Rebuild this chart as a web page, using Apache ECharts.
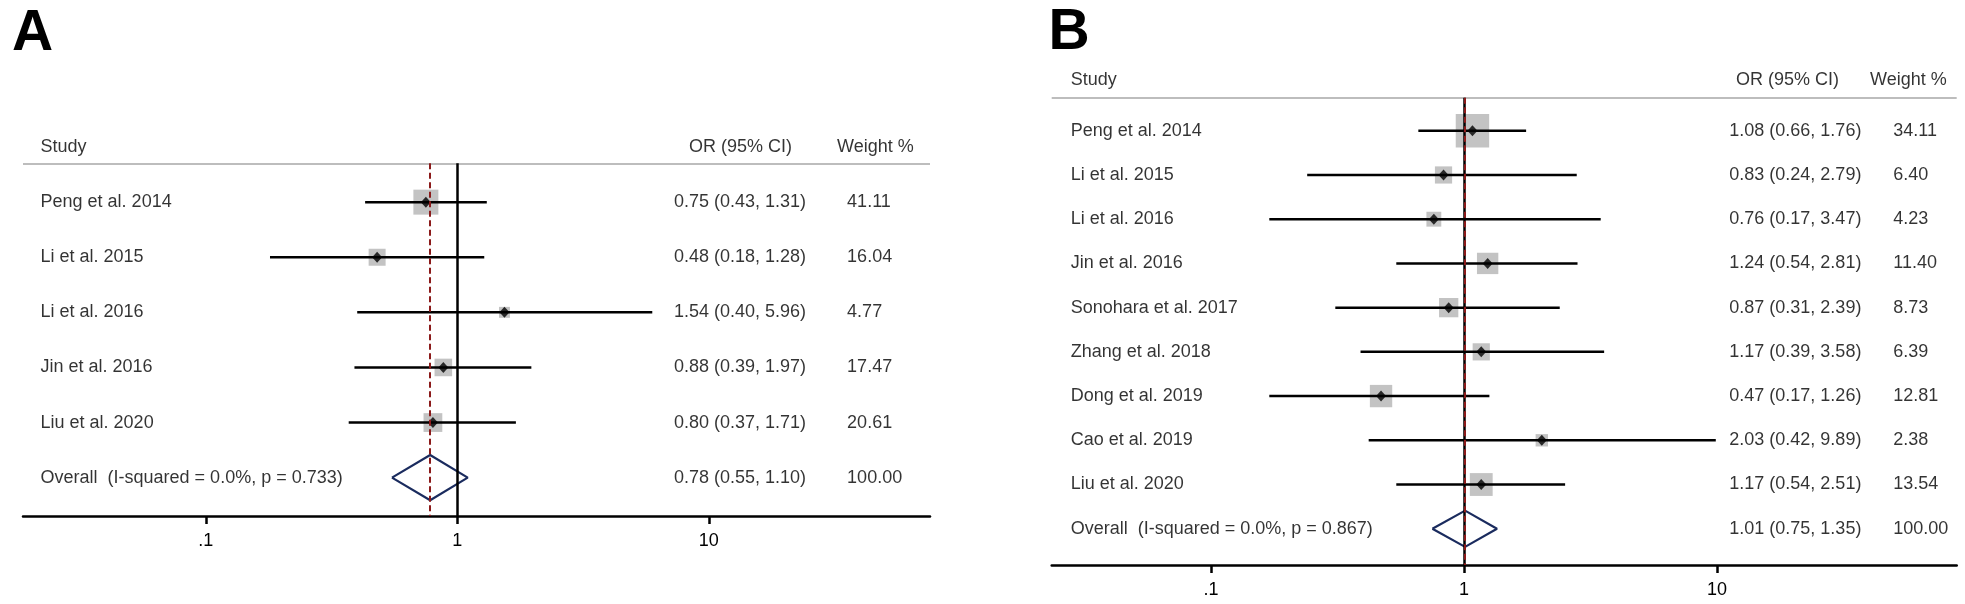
<!DOCTYPE html>
<html><head><meta charset="utf-8">
<script src="https://cdn.jsdelivr.net/npm/echarts@6/dist/echarts.min.js"></script>
<style>html,body{margin:0;padding:0;background:#fff}#c{width:1965px;height:604px}</style>
</head><body><div id="c"></div>
<script>
// ---------- data: panel A ----------
const studiesA = ['Peng et al. 2014', 'Li et al. 2015', 'Li et al. 2016', 'Jin et al. 2016', 'Liu et al. 2020'];
const orA     = [0.75, 0.48, 1.54, 0.88, 0.80];
const lowA    = [0.43, 0.18, 0.40, 0.39, 0.37];
const highA   = [1.31, 1.28, 5.96, 1.97, 1.71];
const weightA = [41.11, 16.04, 4.77, 17.47, 20.61];
const overallLabelA = 'Overall  (I-squared = 0.0%, p = 0.733)';
const overallA = [0.78, 0.55, 1.10];   // OR, low, high
const overallWeightA = 100.00;

// ---------- data: panel B ----------
const studiesB = ['Peng et al. 2014', 'Li et al. 2015', 'Li et al. 2016', 'Jin et al. 2016', 'Sonohara et al. 2017',
                  'Zhang et al. 2018', 'Dong et al. 2019', 'Cao et al. 2019', 'Liu et al. 2020'];
const orB     = [1.08, 0.83, 0.76, 1.24, 0.87, 1.17, 0.47, 2.03, 1.17];
const lowB    = [0.66, 0.24, 0.17, 0.54, 0.31, 0.39, 0.17, 0.42, 0.54];
const highB   = [1.76, 2.79, 3.47, 2.81, 2.39, 3.58, 1.26, 9.89, 2.51];
const weightB = [34.11, 6.40, 4.23, 11.40, 8.73, 6.39, 12.81, 2.38, 13.54];
const overallLabelB = 'Overall  (I-squared = 0.0%, p = 0.867)';
const overallB = [1.01, 0.75, 1.35];
const overallWeightB = 100.00;

// ---------- axis ticks / headers ----------
const tickValues = [0.1, 1, 10];
const tickLabels = ['.1', '1', '10'];
const headers = ['Study', 'OR (95% CI)', 'Weight %'];
const panelLetters = ['A', 'B'];

// ---------- layout (positions & styles only) ----------
const FONT = "'Liberation Sans', Arial, Helvetica, sans-serif";
const layouts = [
  { grid: {left: 23, top: 125, width: 907, height: 391}, xMin: -1.7268, xMax: 1.8795, yMin: -1.4, yMax: 5.696,
    headerRow: -1.0, ruleRow: -0.704, colStudy: -1.657, colOR: 0.8616, colW: 1.5499, hdrOR: 0.9213, hdrW: 1.5101,
    boxA: 3.7, boxB: 3.32, letterX: 12, letterTop: 6 },
  { grid: {left: 1051.7, top: 60, width: 905, height: 505}, xMin: -1.6296, xMax: 1.9474, yMin: -1.6, yMax: 9.82,
    headerRow: -1.136, ruleRow: -0.747, colStudy: -1.5545, colOR: 1.0486, colW: 1.6968, hdrOR: 1.0751, hdrW: 1.6047,
    boxA: 4.8, boxB: 4.9, letterX: 1048.5, letterTop: 5 }
];
const panels = [
  {studies: studiesA, or: orA, low: lowA, high: highA, w: weightA, ovLabel: overallLabelA, ov: overallA, ovW: overallWeightA},
  {studies: studiesB, or: orB, low: lowB, high: highB, w: weightB, ovLabel: overallLabelB, ov: overallB, ovW: overallWeightB}
];

const lg = v => Math.log10(v);
const tickPos = tickValues.map(lg);
const f2 = v => v.toFixed(2);
const ciText = (o, l, h) => f2(o) + ' (' + f2(l) + ', ' + f2(h) + ')';

const grids = [], xAxes = [], yAxes = [], series = [];

panels.forEach((d, idx) => {
  const L = layouts[idx];
  const n = d.studies.length;
  grids.push(Object.assign({containLabel: false}, L.grid));
  xAxes.push({
    type: 'value', gridIndex: idx, min: L.xMin, max: L.xMax,
    axisLine: {show: true, onZero: false, lineStyle: {color: '#000', width: 2.5}},
    axisTick: {show: true, customValues: tickPos, length: 8, lineStyle: {color: '#000', width: 2.5}},
    axisLabel: {show: true, customValues: tickPos, margin: 16, color: '#000', fontSize: 18, fontFamily: FONT,
      formatter: v => { let k = 0, best = 1e9; tickPos.forEach((t, i) => { if (Math.abs(t - v) < best) { best = Math.abs(t - v); k = i; } }); return tickLabels[k]; }},
    splitLine: {show: false}
  });
  yAxes.push({type: 'value', gridIndex: idx, inverse: true, min: L.yMin, max: L.yMax, show: false});

  // guide lines
  series.push({
    type: 'scatter', xAxisIndex: idx, yAxisIndex: idx, data: [], symbolSize: 0, silent: true, z: 1,
    markLine: {
      symbol: ['none', 'none'], silent: true, animation: false, label: {show: false},
      data: [
        {yAxis: L.ruleRow, lineStyle: {color: '#bdbdbd', width: 2, type: 'solid'}},
        [{coord: [0, L.ruleRow], lineStyle: {color: '#000', width: 2.5, type: 'solid'}}, {coord: [0, L.yMax]}],
        [{coord: [lg(d.ov[0]), L.ruleRow], lineStyle: {color: '#8b1a1a', width: 2, type: [6, 3.5]}}, {coord: [lg(d.ov[0]), L.yMax]}]
      ]
    }
  });
  // weight boxes
  series.push({
    type: 'scatter', xAxisIndex: idx, yAxisIndex: idx, z: 2, silent: true, symbol: 'rect',
    data: d.or.map((o, i) => [lg(o), i, d.w[i]]),
    symbolSize: v => L.boxA + L.boxB * Math.sqrt(v[2]),
    itemStyle: {color: '#b4b4b4'}
  });
  // CI lines
  series.push({
    type: 'custom', xAxisIndex: idx, yAxisIndex: idx, z: 3, silent: true,
    data: d.low.map((l, i) => [lg(l), lg(d.high[i]), i]),
    encode: {x: [0, 1], y: 2},
    renderItem: (params, api) => {
      const p1 = api.coord([api.value(0), api.value(2)]);
      const p2 = api.coord([api.value(1), api.value(2)]);
      return {type: 'line', shape: {x1: p1[0], y1: p1[1], x2: p2[0], y2: p2[1]}, style: {stroke: '#000', lineWidth: 2.5}};
    }
  });
  // point estimates
  series.push({
    type: 'scatter', xAxisIndex: idx, yAxisIndex: idx, z: 4, silent: true, symbol: 'diamond', symbolSize: [10, 11],
    data: d.or.map((o, i) => [lg(o), i]), itemStyle: {color: '#000'}
  });
  // overall diamond
  series.push({
    type: 'line', xAxisIndex: idx, yAxisIndex: idx, z: 4, silent: true, symbol: 'none',
    data: [[lg(d.ov[1]), n], [lg(d.ov[0]), n - 0.41], [lg(d.ov[2]), n], [lg(d.ov[0]), n + 0.41], [lg(d.ov[1]), n]],
    lineStyle: {color: '#1a2b5e', width: 2.2}
  });
  // text columns
  const texts = [];
  texts.push({name: headers[0], value: [L.colStudy, L.headerRow]});
  texts.push({name: headers[1], value: [L.hdrOR, L.headerRow]});
  texts.push({name: headers[2], value: [L.hdrW, L.headerRow]});
  d.studies.forEach((s, i) => {
    texts.push({name: s, value: [L.colStudy, i]});
    texts.push({name: ciText(d.or[i], d.low[i], d.high[i]), value: [L.colOR, i]});
    texts.push({name: f2(d.w[i]), value: [L.colW, i]});
  });
  texts.push({name: d.ovLabel, value: [L.colStudy, n]});
  texts.push({name: ciText(d.ov[0], d.ov[1], d.ov[2]), value: [L.colOR, n]});
  texts.push({name: f2(d.ovW), value: [L.colW, n]});
  series.push({
    type: 'scatter', xAxisIndex: idx, yAxisIndex: idx, z: 5, silent: true, symbolSize: 0, clip: false,
    itemStyle: {color: 'transparent'}, data: texts,
    label: {show: true, position: 'right', distance: 0, formatter: '{b}', color: '#000', fontSize: 18, fontFamily: FONT}
  });
});

const chart = echarts.init(document.getElementById('c'), null, {renderer: 'canvas'});
chart.setOption({
  animation: false,
  backgroundColor: '#fff',
  grid: grids, xAxis: xAxes, yAxis: yAxes, series: series,
  graphic: layouts.map((L, i) => ({
    type: 'text', left: L.letterX, top: L.letterTop, silent: true,
    style: {text: panelLetters[i], font: 'bold 57px ' + FONT, fill: '#000'}
  }))
});
</script></body></html>
